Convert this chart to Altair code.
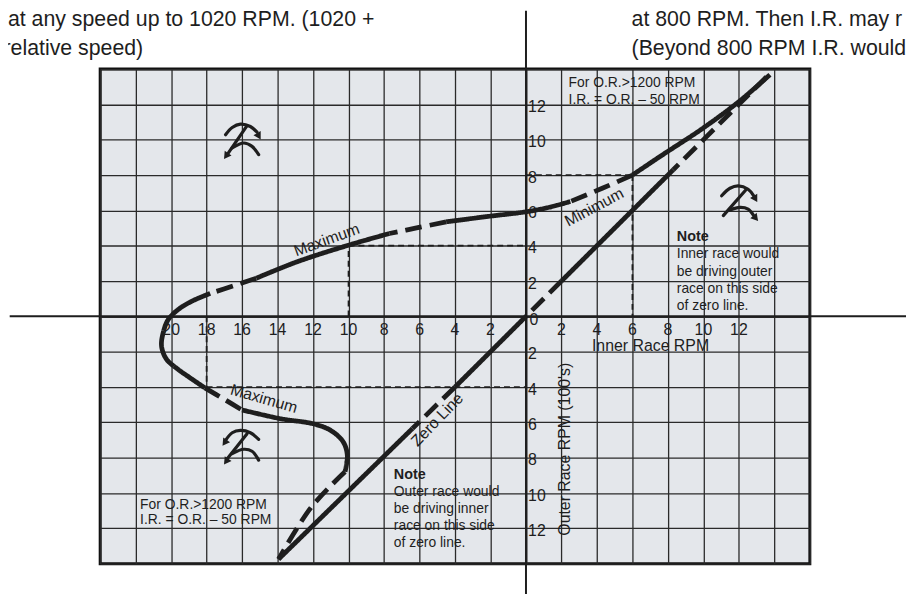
import altair as alt
import pandas as pd

# ---------------- values (units: 100 RPM) ----------------
x_domain = [-24, 16]
y_domain = [-14, 14]
grid_x = list(range(-24, 17, 2))
grid_y = list(range(-14, 15, 2))

x_tick_pos = [-20, -18, -16, -14, -12, -10, -8, -6, -4, -2, 2, 4, 6, 8, 10, 12]
x_tick_text = ["20", "18", "16", "14", "12", "10", "8", "6", "4", "2",
               "2", "4", "6", "8", "10", "12"]
y_tick_pos = [12, 10, 8, 6, 4, 2, -2, -4, -6, -8, -10, -12]
y_tick_text = ["12", "10", "8", "6", "4", "2", "2", "4", "6", "8", "10", "12"]

# main curve, in runs that are drawn solid or dashed
min_solid_x = [13.75, 12.05, 10.0, 7.6, 6.0]
min_solid_y = [13.68, 12.2, 10.67, 9.08, 8.0]
min_dash_x = [6.0, 4.3, 2.5]
min_dash_y = [8.0, 7.25, 6.5]
mid_solid_x = [2.5, 1.2, 0.0, -2.2, -4.5]
mid_solid_y = [6.5, 6.15, 5.92, 5.65, 5.35]
max1_dash_x = [-4.5, -6.1, -7.7]
max1_dash_y = [5.35, 5.02, 4.69]
max1_solid_x = [-7.7, -10.0, -12.9, -15.2]
max1_solid_y = [4.69, 4.03, 3.09, 2.16]
max2_dash_x = [-15.2, -16.5, -17.8]
max2_dash_y = [2.16, 1.72, 1.3]
loop_x = [-17.8, -18.87, -19.61, -20.17, -20.45, -20.54, -20.26, -19.61, -18.96, -18.1]
loop_y = [1.3, 0.84, 0.38, -0.19, -0.93, -1.69, -2.43, -3.0, -3.46, -4.05]
max3_dash_x = [-18.1, -17.0, -16.0]
max3_dash_y = [-4.05, -4.7, -5.3]
max3_solid_x = [-16.0, -13.8, -12.0, -11.0, -10.3, -10.07, -10.2]
max3_solid_y = [-5.3, -5.8, -6.08, -6.46, -7.11, -7.87, -8.8]
tail_dash_x = [-10.2, -12.1, -13.95]
tail_dash_y = [-8.8, -10.8, -13.75]

curve_runs = [
    ("solid", min_solid_x, min_solid_y),
    ("dashed", min_dash_x, min_dash_y),
    ("solid", mid_solid_x, mid_solid_y),
    ("dashed", max1_dash_x, max1_dash_y),
    ("solid", max1_solid_x, max1_solid_y),
    ("dashed", max2_dash_x, max2_dash_y),
    ("solid", loop_x, loop_y),
    ("dashed", max3_dash_x, max3_dash_y),
    ("solid", max3_solid_x, max3_solid_y),
    ("dashed", tail_dash_x, tail_dash_y),
]

# zero line (I.R. = O.R.) and the style of each piece between consecutive points
zero_x = [13.55, 8.3, 2.0, 0.0, -4.0, -6.4, -13.95]
zero_y = [13.55, 8.3, 2.0, 0.0, -4.0, -6.35, -13.75]
zero_style = ["dashed", "solid", "dashed", "solid", "dashed", "solid"]

# thin dashed construction lines
guide_x1 = [-10, -10, 0, 6, -18, -18]
guide_y1 = [0, 4, 8, 8, 0, -4]
guide_x2 = [-10, 0, 6, 6, -18, 0]
guide_y2 = [4, 4, 8, 0, -4, -4]

# rotation symbols: centres, then shape offsets in pixels (right, down)
glyph_cx = [-16.0, 11.96, -16.0]
glyph_cy = [10.0, 6.45, -7.3]
glyph_upper = [
    [(-16.7, -5), (-10, -12.3), (-1.7, -15.7), (8.3, -13.3), (15, -7.7)],
    [(-16.7, -6.7), (-8.3, -14.3), (0, -16.7), (10, -13.3), (15.7, -6.7)],
    [(-16.7, -5), (-10, -12.7), (-1.7, -15), (8.3, -12.7), (16.7, -6)],
]
glyph_diag = [
    [(5, -14.3), (-14, 13.5)],
    [(8.3, -13.3), (-15, 13.3)],
    [(5, -11.7), (-15, 13.5)],
]
glyph_lower = [
    [(-10, 8.3), (1.7, 3.3), (10, 6.7), (16.7, 15)],
    [(-8.3, 7.7), (1.7, 5), (10, 6.7), (15.5, 13)],
    [(-10, 8.3), (1.7, 4), (10, 6), (16.7, 15)],
]
glyph_heads = [
    [(16.3, -4.5, 150), (-15.5, 15.5, 215)],
    [(16.8, -4.5, 150), (17, 15, 140)],
    [(-17, -3.5, 215), (-15.5, 15.5, 215)],
]

PX_X, PX_Y = 17.9, 17.82  # pixels per unit on each axis

# annotations
note_up_lines = ["Inner race would", "be driving outer", "race on this side", "of zero line."]
note_dn_lines = ["Outer race would", "be driving inner", "race on this side", "of zero line."]
rule_lines = ["For O.R.>1200 RPM", "I.R. = O.R. \u2013 50 RPM"]
top_left_lines = ["at any speed up to 1020 RPM. (1020 +", "relative speed)"]
top_right_lines = ["at 800 RPM. Then I.R. may r", "(Beyond 800 RPM I.R. would"]

# ---------------- build tables ----------------
rows = []
for k, (style, xs, ys) in enumerate(curve_runs):
    for i, (x, y) in enumerate(zip(xs, ys)):
        rows.append(dict(run=f"c{k}", style=style, i=i, x=x, y=y))
for k, style in enumerate(zero_style):
    rows.append(dict(run=f"z{k}", style=style, i=0, x=zero_x[k], y=zero_y[k]))
    rows.append(dict(run=f"z{k}", style=style, i=1, x=zero_x[k + 1], y=zero_y[k + 1]))
curves = pd.DataFrame(rows)

guides = pd.DataFrame(dict(x=guide_x1, y=guide_y1, x2=guide_x2, y2=guide_y2))

g_rows, h_rows = [], []
for g in range(3):
    for part, pts in (("u", glyph_upper[g]), ("d", glyph_diag[g]), ("l", glyph_lower[g])):
        for i, (dx, dy) in enumerate(pts):
            g_rows.append(dict(run=f"{g}{part}", i=i,
                               x=glyph_cx[g] + dx / PX_X, y=glyph_cy[g] - dy / PX_Y))
    for dx, dy, a in glyph_heads[g]:
        h_rows.append(dict(x=glyph_cx[g] + dx / PX_X, y=glyph_cy[g] - dy / PX_Y, a=a))
glyphs = pd.DataFrame(g_rows)
heads = pd.DataFrame(h_rows)

xticks = pd.DataFrame(dict(x=x_tick_pos, y=[-0.75] * len(x_tick_pos), t=x_tick_text))
yticks = pd.DataFrame(dict(x=[0.12] * len(y_tick_pos), y=[v - 0.15 for v in y_tick_pos], t=y_tick_text))
zero_lab = pd.DataFrame(dict(x=[0.45], y=[-0.2], t=["0"]))

small_text = pd.DataFrame(dict(
    x=[2.4, 2.4, -21.75, -21.75] + [8.5] * 4 + [-7.45] * 4,
    y=[13.19, 12.27, -10.66, -11.55,
       3.51, 2.53, 1.55, 0.57,
       -9.93, -10.9, -11.87, -12.84],
    t=rule_lines + rule_lines + note_up_lines + note_dn_lines,
))
note_heads = pd.DataFrame(dict(x=[8.5, -7.45], y=[4.49, -8.96], t=["Note", "Note"]))

labels = pd.DataFrame(dict(
    x=[-11.23, -14.77, 3.85, -5.0, 7.02, 2.18],
    y=[4.32, -4.67, 6.17, -5.85, -1.68, -7.52],
    a=[340, 16, 332, 314, 0, 270],
    t=["Maximum", "Maximum", "Minimum", "Zero Line", "Inner Race RPM", "Outer Race RPM (100's)"],
))

top_text = pd.DataFrame(dict(
    x=[-29.2, -29.45, 5.95, 5.95],
    y=[16.8, 15.15, 16.8, 15.15],
    t=[top_left_lines[0], top_left_lines[1], top_right_lines[0], top_right_lines[1]],
))

axis_v = pd.DataFrame(dict(x=[0], y=[17.3], y2=[-17.0]))
axis_h = pd.DataFrame(dict(x=[-29.1], x2=[22.0], y=[0]))

# ---------------- encodings ----------------
xs = alt.Scale(domain=x_domain, nice=False, zero=False)
ys = alt.Scale(domain=y_domain, nice=False, zero=False)
xaxis = alt.Axis(values=grid_x, grid=True, labels=False, ticks=False, domain=False, title=None,
                 gridColor="#2a2a2a", gridWidth=1.3, gridOpacity=1)
yaxis = alt.Axis(values=grid_y, grid=True, labels=False, ticks=False, domain=False, title=None,
                 gridColor="#2a2a2a", gridWidth=1.3, gridOpacity=1)


def X(f="x"):
    return alt.X(f, type="quantitative", scale=xs, axis=xaxis)


def Y(f="y"):
    return alt.Y(f, type="quantitative", scale=ys, axis=yaxis)


FONT = "Liberation Sans"
INK = "#1e1e1e"

v_rule = alt.Chart(axis_v).mark_rule(color=INK, strokeWidth=2).encode(
    x=X(), y=Y(), y2=alt.Y2("y2"))
h_rule = alt.Chart(axis_h).mark_rule(color=INK, strokeWidth=2).encode(
    x=X(), x2=alt.X2("x2"), y=Y())

guide_layer = alt.Chart(guides).mark_rule(color=INK, strokeWidth=1.8, strokeDash=[6, 4]).encode(
    x=X(), y=Y(), x2=alt.X2("x2"), y2=alt.Y2("y2"))

curve_layer = alt.Chart(curves).mark_line(
    color=INK, strokeWidth=4.8, interpolate="catmull-rom", strokeCap="butt"
).encode(
    x=X(), y=Y(), detail="run:N", order=alt.Order("i:Q"),
    strokeDash=alt.StrokeDash("style:N", scale=alt.Scale(domain=["solid", "dashed"],
                                                          range=[[1, 0], [17, 8]]), legend=None),
)

glyph_layer = alt.Chart(glyphs).mark_line(
    color=INK, strokeWidth=3.2, interpolate="catmull-rom", strokeCap="round"
).encode(x=X(), y=Y(), detail="run:N", order=alt.Order("i:Q"))

head_layer = alt.Chart(heads).mark_point(
    shape="triangle", filled=True, color=INK, size=70, opacity=1
).encode(x=X(), y=Y(), angle=alt.Angle("a:Q", scale=None))

xtick_layer = alt.Chart(xticks).mark_text(font=FONT, fontSize=16, color=INK, align="center",
                                          baseline="middle").encode(x=X(), y=Y(), text="t:N")
ytick_layer = alt.Chart(yticks).mark_text(font=FONT, fontSize=16, color=INK, align="left",
                                          baseline="middle").encode(x=X(), y=Y(), text="t:N")
zero_layer = alt.Chart(zero_lab).mark_text(font=FONT, fontSize=16, color=INK, align="center",
                                           baseline="middle").encode(x=X(), y=Y(), text="t:N")

small_layer = alt.Chart(small_text).mark_text(font=FONT, fontSize=14, color=INK, align="left",
                                              baseline="middle").encode(x=X(), y=Y(), text="t:N")
note_layer = alt.Chart(note_heads).mark_text(font=FONT, fontSize=14.5, fontWeight="bold", color=INK,
                                             align="left", baseline="middle").encode(
    x=X(), y=Y(), text="t:N")

label_layer = alt.Chart(labels).mark_text(font=FONT, fontSize=16, color=INK, align="center",
                                          baseline="middle").encode(
    x=X(), y=Y(), text="t:N", angle=alt.Angle("a:Q", scale=None))

top_layer = alt.Chart(top_text).mark_text(font=FONT, fontSize=21.5, color=INK, align="left",
                                          baseline="middle").encode(x=X(), y=Y(), text="t:N")

chart = alt.layer(
    guide_layer, v_rule, h_rule, curve_layer, glyph_layer, head_layer,
    xtick_layer, ytick_layer, zero_layer, small_layer, note_layer, label_layer, top_layer,
).properties(
    width=716, height=499,
    padding={"left": 93, "top": 59, "right": 97, "bottom": 28},
    autosize=alt.AutoSizeParams(type="none"),
    background="white",
).configure_view(
    fill="#e4e7eb", stroke="#111111", strokeWidth=3
)

chart.save("out.html", embed_options={"renderer": "svg", "actions": False})
